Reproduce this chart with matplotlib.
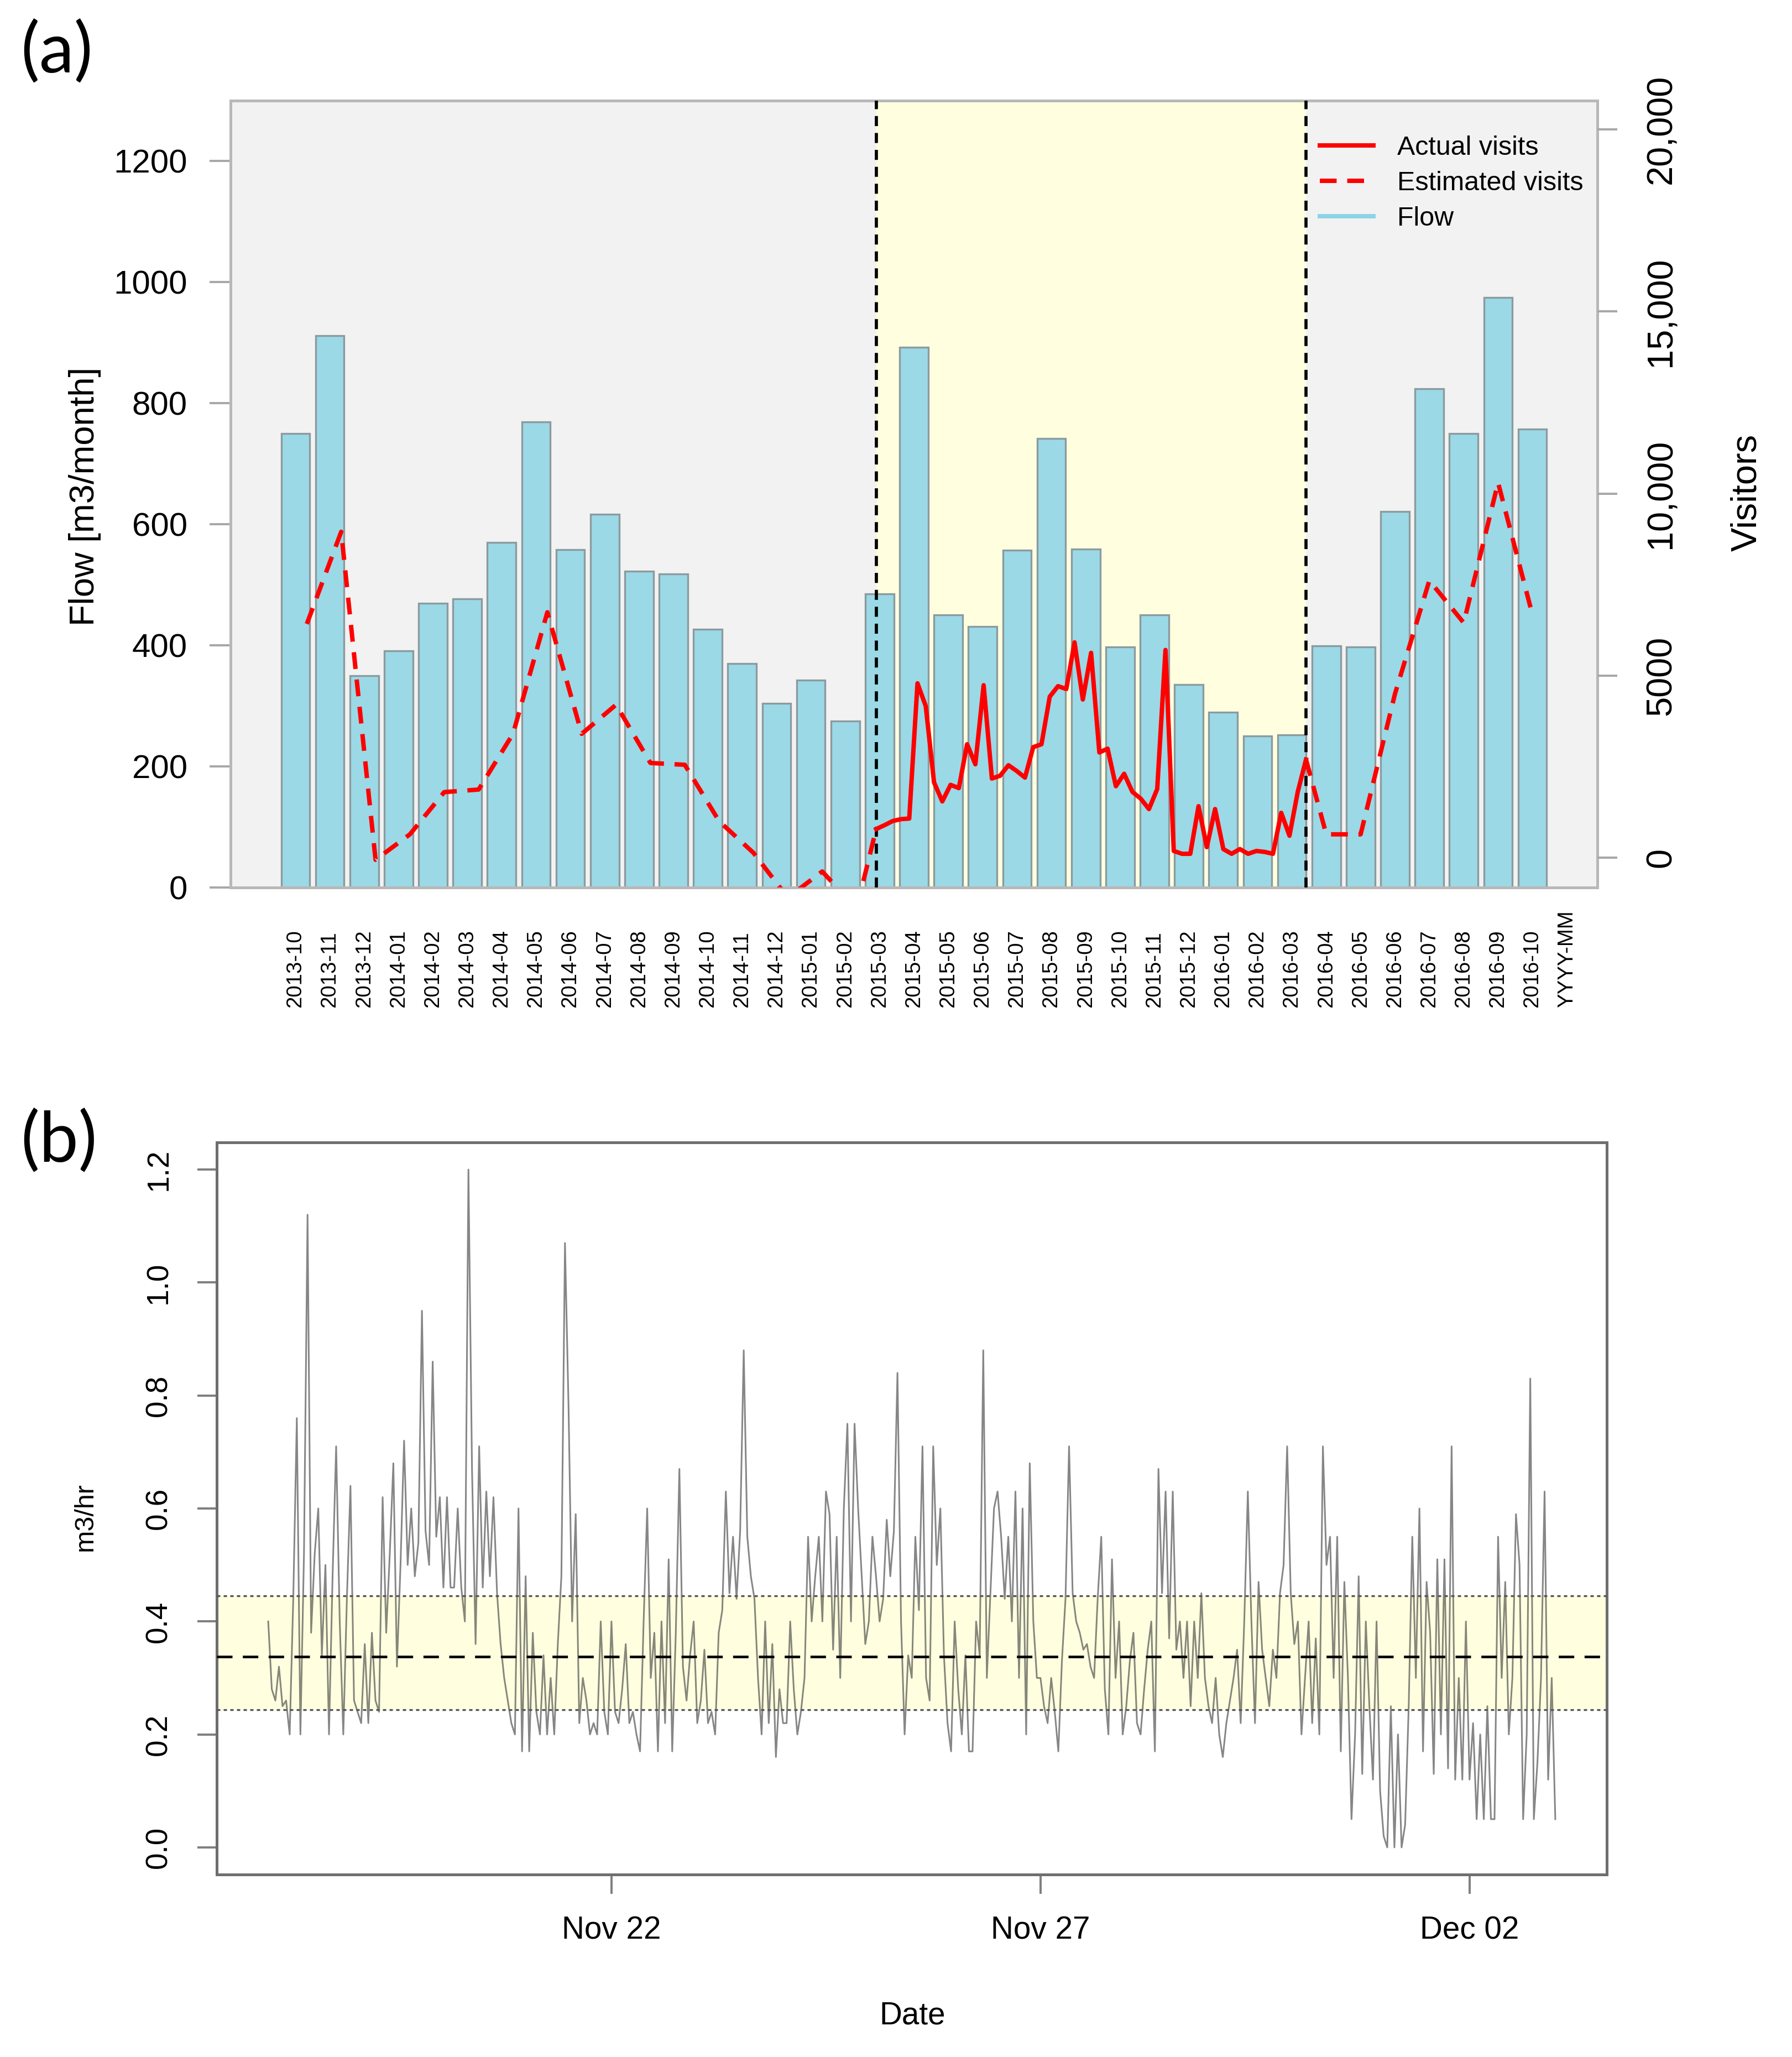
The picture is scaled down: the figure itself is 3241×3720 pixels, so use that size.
import matplotlib.pyplot as plt
import matplotlib.dates as mdates
from matplotlib.lines import Line2D
import numpy as np
import pandas as pd

plt.rcParams['font.family'] = ['Liberation Sans', 'DejaVu Sans']

# ---- panel (a): monthly flow and visitor numbers ----
months = ['2013-10', '2013-11', '2013-12', '2014-01', '2014-02', '2014-03', '2014-04',
          '2014-05', '2014-06', '2014-07', '2014-08', '2014-09', '2014-10', '2014-11',
          '2014-12', '2015-01', '2015-02', '2015-03', '2015-04', '2015-05', '2015-06',
          '2015-07', '2015-08', '2015-09', '2015-10', '2015-11', '2015-12', '2016-01',
          '2016-02', '2016-03', '2016-04', '2016-05', '2016-06', '2016-07', '2016-08',
          '2016-09', '2016-10']
extra_label = 'YYYY-MM'

flow_monthly = [750, 912, 350, 391, 469, 477, 570, 769, 558, 616, 522, 518, 426, 370,
                304, 342, 275, 485, 892, 450, 431, 557, 742, 559, 397, 450, 335, 289,
                250, 252, 399, 397, 621, 824, 750, 975, 757]

# estimated visits 2013-10 .. 2015-02 and 2016-04 .. 2016-10
estimated_before = [6420, 8950, -60, 640, 1800, 1870, 3400, 6740, 3400, 4200, 2600,
                    2550, 1000, 130, -1100, -380, -1400]
estimated_after = [640, 640, 4500, 7610, 6450, 10300, 6670]

# weekly counted visits, 2015-03 .. 2016-03
actual_weekly = [785, 890, 1005, 1057, 1073, 4788, 4160, 2067, 1544, 1999, 1910, 3114,
                 2564, 4736, 2172, 2250, 2538, 2381, 2198, 3035, 3114, 4422, 4710, 4631,
                 5913, 4343, 5625, 2889, 2993, 1962, 2303, 1805, 1622, 1334, 1884, 5704,
                 183, 105, 105, 1413, 288, 1334, 235, 105, 235, 105, 183, 157, 105, 1230,
                 602, 1805, 2695]

visitor_ticks = [0, 5000, 10000, 15000, 20000]
visitor_labels = ['0', '5000', '10,000', '15,000', '20,000']

# ---- panel (b): hourly flow, 18 Nov 00:00 .. 3 Dec 00:00 ----
hourly_flow = [
    0.40, 0.28, 0.26, 0.32, 0.25, 0.26, 0.20, 0.44, 0.76, 0.20, 0.52, 1.12, 0.38, 0.52, 0.60, 0.34, 0.50, 0.20, 0.48, 0.71, 0.40, 0.20, 0.44, 0.64,
    0.26, 0.24, 0.22, 0.36, 0.22, 0.38, 0.26, 0.24, 0.62, 0.38, 0.52, 0.68, 0.32, 0.50, 0.72, 0.50, 0.60, 0.48, 0.54, 0.95, 0.56, 0.50, 0.86, 0.55,
    0.62, 0.46, 0.62, 0.46, 0.46, 0.60, 0.46, 0.40, 1.20, 0.67, 0.36, 0.71, 0.46, 0.63, 0.48, 0.62, 0.45, 0.36, 0.30, 0.26, 0.22, 0.20, 0.60, 0.17,
    0.48, 0.17, 0.38, 0.24, 0.20, 0.34, 0.20, 0.30, 0.20, 0.36, 0.48, 1.07, 0.78, 0.40, 0.59, 0.22, 0.30, 0.26, 0.20, 0.22, 0.20, 0.40, 0.24, 0.20,
    0.40, 0.24, 0.22, 0.28, 0.36, 0.22, 0.24, 0.20, 0.17, 0.40, 0.60, 0.30, 0.38, 0.17, 0.40, 0.22, 0.51, 0.17, 0.38, 0.67, 0.32, 0.26, 0.34, 0.40,
    0.22, 0.26, 0.35, 0.22, 0.24, 0.20, 0.38, 0.42, 0.63, 0.45, 0.55, 0.44, 0.56, 0.88, 0.55, 0.48, 0.44, 0.30, 0.20, 0.40, 0.22, 0.36, 0.16, 0.28,
    0.22, 0.22, 0.40, 0.28, 0.20, 0.24, 0.30, 0.55, 0.40, 0.48, 0.55, 0.40, 0.63, 0.59, 0.35, 0.55, 0.30, 0.60, 0.75, 0.40, 0.75, 0.60, 0.48, 0.36,
    0.40, 0.55, 0.48, 0.40, 0.44, 0.58, 0.48, 0.56, 0.84, 0.40, 0.20, 0.34, 0.30, 0.55, 0.42, 0.71, 0.30, 0.26, 0.71, 0.50, 0.60, 0.34, 0.22, 0.17,
    0.40, 0.28, 0.20, 0.34, 0.17, 0.17, 0.40, 0.34, 0.88, 0.30, 0.45, 0.60, 0.63, 0.55, 0.44, 0.55, 0.40, 0.63, 0.30, 0.60, 0.20, 0.68, 0.40, 0.30,
    0.30, 0.25, 0.22, 0.30, 0.24, 0.17, 0.33, 0.44, 0.71, 0.45, 0.40, 0.38, 0.35, 0.36, 0.32, 0.30, 0.44, 0.55, 0.28, 0.20, 0.51, 0.30, 0.40, 0.20,
    0.25, 0.33, 0.38, 0.22, 0.20, 0.28, 0.35, 0.40, 0.17, 0.67, 0.45, 0.63, 0.37, 0.63, 0.35, 0.40, 0.30, 0.40, 0.25, 0.40, 0.30, 0.45, 0.30, 0.25,
    0.22, 0.30, 0.20, 0.16, 0.22, 0.26, 0.30, 0.35, 0.22, 0.40, 0.63, 0.40, 0.22, 0.47, 0.35, 0.30, 0.25, 0.35, 0.30, 0.45, 0.50, 0.71, 0.45, 0.36,
    0.40, 0.20, 0.30, 0.40, 0.22, 0.37, 0.20, 0.71, 0.50, 0.55, 0.30, 0.55, 0.17, 0.47, 0.30, 0.05, 0.20, 0.48, 0.13, 0.40, 0.25, 0.12, 0.40, 0.10,
    0.02, 0.00, 0.25, 0.00, 0.20, 0.00, 0.04, 0.25, 0.55, 0.30, 0.60, 0.17, 0.47, 0.38, 0.13, 0.51, 0.20, 0.51, 0.14, 0.71, 0.12, 0.30, 0.12, 0.40,
    0.12, 0.22, 0.05, 0.20, 0.05, 0.25, 0.05, 0.05, 0.55, 0.30, 0.47, 0.20, 0.30, 0.59, 0.50, 0.05, 0.20, 0.83, 0.05, 0.15, 0.30, 0.63, 0.12, 0.30,
    0.05,
]
band_low, band_mean, band_high = 0.244, 0.338, 0.445

bar_color = '#9BD9E7'
yellow = '#FFFFE0'

fig = plt.figure(figsize=(3241 / 240, 3720 / 240), dpi=240)

# ---------------- panel (a) ----------------
ax1 = fig.add_axes([0.12866, 0.56868, 0.76273, 0.38240])
ax1.set_facecolor('#F2F2F2')

# survey period: between the two dashed lines
period_start, period_end = 16.90, 29.41
ax1.axvspan(period_start, period_end, color=yellow, zorder=0, lw=0)

x = np.arange(len(months))
ax1.bar(x, flow_monthly, width=1 / 1.2, color=bar_color, edgecolor='#8C9A9E',
        linewidth=1.0, zorder=2)
for xv in (period_start, period_end):
    ax1.axvline(xv, color='black', lw=1.7, ls=(0, (3.2, 2.2)), zorder=3)

ax1.set_xlim(-1.89, 37.89)
ax1.set_ylim(0, 1300)
ax1.set_yticks(range(0, 1201, 200))
ax1.set_xticks([])
ax1.tick_params(axis='y', length=11.5, width=1.2, color='#A8A8A8', pad=12, labelsize=18)
for sp in ax1.spines.values():
    sp.set_color('#B8B8B8')
    sp.set_linewidth(1.5)

for i, lab in enumerate(months + [extra_label]):
    ax1.text(i, -0.153, lab, transform=ax1.get_xaxis_transform(), rotation=90,
             ha='center', va='bottom', fontsize=11.5)

ax2 = ax1.twinx()
ax2.set_ylim(-813, 20793)
ax2.set_yticks(visitor_ticks)
ax2.set_yticklabels(visitor_labels, rotation=90, va='center')
ax2.tick_params(axis='y', length=10.8, width=1.2, color='#A8A8A8', pad=15, labelsize=19.5)
for sp in ax2.spines.values():
    sp.set_visible(False)

red_dash = (0, (3.8, 2.4))
x_before = list(np.arange(len(estimated_before)) + 0.33) + [period_start]
ax2.plot(x_before, estimated_before + [actual_weekly[0]], color='red', lw=2.4,
         ls=red_dash, zorder=4)
x_actual = np.linspace(period_start, period_end, len(actual_weekly))
ax2.plot(x_actual, actual_weekly, color='red', lw=2.4, zorder=4)
x_after = [period_end] + list(np.arange(30, 30 + len(estimated_after)))
ax2.plot(x_after, [actual_weekly[-1]] + estimated_after, color='red', lw=2.4,
         ls=red_dash, zorder=4)

handles = [Line2D([], [], color='red', lw=2.4),
           Line2D([], [], color='red', lw=2.4, ls=red_dash),
           Line2D([], [], color='#8DD3E8', lw=2.4)]
ax2.legend(handles, ['Actual visits', 'Estimated visits', 'Flow'], loc='upper left',
           bbox_to_anchor=(0.797, 0.956), frameon=False, fontsize=14.5,
           handlelength=2.0, handletextpad=0.9, labelspacing=0.4, borderpad=0,
           borderaxespad=0)

fig.text(0.0475, 0.7586, 'Flow [m3/month]', rotation=90, ha='center', va='center',
         fontsize=19)
fig.text(0.9747, 0.7605, 'Visitors', rotation=90, ha='center', va='center',
         fontsize=19.5)
fig.text(0.0114, 0.990, '(a)', family=['Lato', 'DejaVu Sans'], fontsize=38,
         ha='left', va='top')

# ---------------- panel (b) ----------------
ax3 = fig.add_axes([0.12095, 0.08871, 0.77569, 0.35591])
times = pd.date_range('2015-11-18 00:00', periods=len(hourly_flow), freq='h')

ax3.axhspan(band_low, band_high, color=yellow, zorder=0, lw=0)
ax3.plot(times, hourly_flow, color='#3C3C3C', alpha=0.62, lw=0.9, zorder=2)
ax3.axhline(band_mean, color='black', lw=1.4, ls=(0, (6, 4)), zorder=3)
for yv in (band_low, band_high):
    ax3.axhline(yv, color='#555555', lw=1.0, ls=(0, (1.8, 1.8)), zorder=3)

span = times[-1] - times[0]
ax3.set_xlim(times[0] - 0.04 * span, times[-1] + 0.04 * span)
ax3.set_ylim(-0.048, 1.248)
ax3.set_xticks(pd.to_datetime(['2015-11-22', '2015-11-27', '2015-12-02']))
ax3.xaxis.set_major_formatter(mdates.DateFormatter('%b %d'))
ax3.set_yticks(np.arange(0, 1.21, 0.2))
ax3.set_yticklabels([f'{v:.1f}' for v in np.arange(0, 1.21, 0.2)], rotation=90,
                    va='center')
ax3.tick_params(axis='x', length=10.5, width=1.2, color='#808080', pad=12, labelsize=17)
ax3.tick_params(axis='y', length=10.5, width=1.2, color='#808080', pad=13, labelsize=16.5)
for sp in ax3.spines.values():
    sp.set_color('#6E6E6E')
    sp.set_linewidth(1.5)

fig.text(0.0475, 0.2626, 'm3/hr', rotation=90, ha='center', va='center', fontsize=14.5)
fig.text(0.5093, 0.0199, 'Date', ha='center', va='center', fontsize=17)
fig.text(0.0114, 0.4605, '(b)', family=['Lato', 'DejaVu Sans'], fontsize=38,
         ha='left', va='top')

fig.savefig('out.png', dpi=240)
